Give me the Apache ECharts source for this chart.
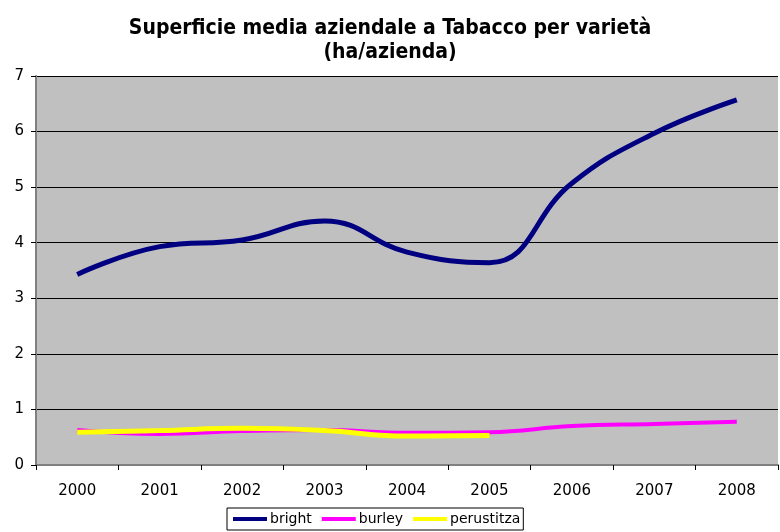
<!DOCTYPE html>
<html>
<head>
<meta charset="utf-8">
<script src="https://cdn.jsdelivr.net/npm/echarts@6/dist/echarts.min.js"></script>
<style>
    html, body { margin: 0; padding: 0; background: #fff; }
    #chart { width: 780px; height: 532px; }
</style>
</head>
<body>
<div id="chart"></div>
<script>
    // dati
    var anni = ['2000', '2001', '2002', '2003', '2004', '2005', '2006', '2007', '2008'];
    var bright = [3.43, 3.93, 4.05, 4.39, 3.83, 3.64, 5.07, 5.97, 6.57];
    var burley = [0.63, 0.56, 0.61, 0.63, 0.58, 0.59, 0.70, 0.74, 0.78];
    var perustitza = [0.59, 0.62, 0.66, 0.62, 0.52, 0.53, null, null, null];
    var yTicks = [0, 1, 2, 3, 4, 5, 6, 7];

    var chart = echarts.init(document.getElementById('chart'));

    function linea(nome, dati, colore, spessore, z) {
        return {
            name: nome,
            type: 'line',
            data: dati,
            smooth: 0.45,
            symbol: 'none',
            z: z,
            lineStyle: { color: colore, width: spessore },
            itemStyle: { color: colore }
        };
    }

    chart.setOption({
        animation: false,
        title: {
            text: 'Superficie media aziendale a Tabacco per varietà\n(ha/azienda)',
            left: 'center',
            top: 12,
            textStyle: {
                fontFamily: 'DejaVu Sans Condensed',
                fontWeight: 'bold',
                fontSize: 21,
                lineHeight: 24,
                color: '#000'
            }
        },
        legend: {
            bottom: 2,
            left: 227,
            icon: 'rect',
            itemWidth: 34,
            itemHeight: 4,
            itemGap: 10,
            padding: [4, 3, 4, 6],
            borderColor: '#000',
            borderWidth: 1,
            textStyle: { fontFamily: 'DejaVu Sans', fontSize: 14, color: '#000', padding: [0, 0, 0, -2] },
            data: ['bright', 'burley', 'perustitza']
        },
        grid: {
            left: 36,
            right: 2,
            top: 76,
            bottom: 67,
            show: true,
            backgroundColor: '#c0c0c0',
            borderWidth: 0
        },
        xAxis: {
            type: 'category',
            data: anni,
            boundaryGap: true,
            axisLine: { lineStyle: { color: '#808080', width: 2 } },
            axisTick: { show: true, length: 5, lineStyle: { color: '#000' } },
            axisLabel: { fontFamily: 'DejaVu Sans', fontSize: 15, color: '#000', margin: 19 }
        },
        yAxis: {
            type: 'value',
            min: yTicks[0],
            max: yTicks[yTicks.length - 1],
            interval: 1,
            axisLine: { show: true, lineStyle: { color: '#808080', width: 2 } },
            axisTick: { show: true, length: 5, lineStyle: { color: '#000' } },
            axisLabel: { fontFamily: 'DejaVu Sans', fontSize: 15, color: '#000', margin: 12 },
            splitLine: { lineStyle: { color: '#000', width: 1 } }
        },
        series: [
            linea('bright', bright, '#000080', 5, 3),
            linea('burley', burley, '#ff00ff', 4, 4),
            linea('perustitza', perustitza, '#ffff00', 5, 5)
        ]
    });
</script>
</body>
</html>
